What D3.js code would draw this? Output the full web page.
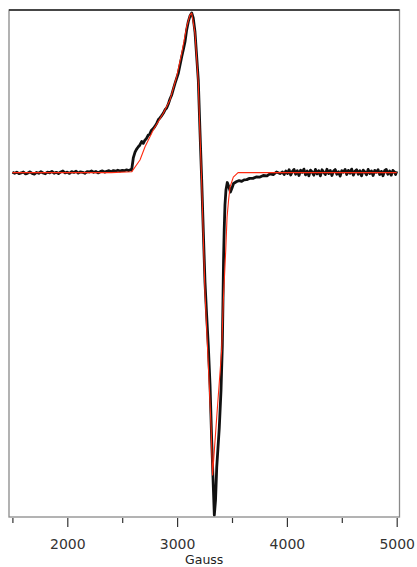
<!DOCTYPE html>
<html>
<head>
<meta charset="utf-8">
<script src="https://cdn.jsdelivr.net/npm/d3@7"></script>
<style>
  html, body { margin: 0; padding: 0; background: #fff; }
  svg { display: block; }
</style>
</head>
<body>
<div id="chart"></div>
<script>
// measured spectrum (field in Gauss, derivative intensity in arbitrary units)
var expField = [1500,1520,1540,1560,1580,1600,1620,1640,1660,1680,1700,1720,1740,1760,1780,1800,1820,1840,1860,1880,
  1900,1920,1940,1960,1980,2000,2020,2040,2060,2080,2100,2120,2140,2160,2180,2200,2220,2240,2260,2280,
  2300,2320,2340,2360,2380,2400,2420,2440,2460,2480,2500,2520,2540,2560,2575,
  2586,2601,2617,2630,2647,2660,2678,2692,2708,2720,2738,2750,2765,2783,2798,2814,2830,2844,2858,2874,2890,2905,2920,2935,2951,2965,2981,3011,3042,3056,3072,
  3087,3102,3117,3133,3147,3163,3193,3208,3224,3239,3254,3269,3284,3300,3315,3330,3339,3350,3361,3384,
  3400,3412,3418,3423,3429,3436,3445,3457,3472,3486,3500,3514,3543,3565,3588,3610,3634,3660,3691,3720,
  3755,3785,3819,3845,3876,3905,3937,3960,3975,3990,4005,4020,4035,4050,4065,4080,4095,4110,4125,4140,
  4155,4170,4185,4200,4215,4230,4245,4260,4275,4290,4305,4320,4335,4350,4365,4380,4395,4410,4425,4440,
  4455,4470,4485,4500,4515,4530,4545,4560,4575,4590,4605,4620,4635,4650,4665,4680,4695,4710,4725,4740,
  4755,4770,4785,4800,4815,4830,4845,4860,4875,4890,4905,4920,4935,4950,4965,4980,4990,5000];
var expSignal = [0.002,-0.004,0.003,-0.006,-0.002,0.004,-0.008,-0.003,0.005,-0.005,-0.009,0.001,-0.004,0.006,-0.002,-0.007,0.003,-0.001,0.008,-0.004,
  0.002,-0.006,0.004,0.010,-0.002,0.003,-0.005,0.006,0.001,0.009,-0.003,0.005,0.002,-0.004,0.006,0.004,0.010,0.002,0.007,-0.002,
  0.006,0.011,0.003,0.008,0.012,0.006,0.013,0.009,0.015,0.010,0.014,0.012,0.017,0.013,0.018,
  0.016,0.092,0.128,0.146,0.162,0.172,0.196,0.184,0.205,0.213,0.236,0.240,0.264,0.276,0.290,0.309,0.333,0.343,0.356,0.372,0.394,0.405,0.430,0.462,0.487,0.522,0.560,0.623,0.727,0.769,0.821,
  0.895,0.947,0.982,1.001,0.970,0.882,0.581,0.267,-0.046,-0.373,-0.687,-0.893,-1.082,-1.333,-1.678,-1.973,-2.148,-2.054,-1.847,-1.602,
  -1.364,-1.082,-0.799,-0.549,-0.360,-0.203,-0.109,-0.062,-0.090,-0.122,-0.097,-0.068,-0.056,-0.050,-0.055,-0.045,-0.044,-0.036,-0.036,-0.027,
  -0.028,-0.018,-0.020,-0.008,-0.012,0.004,-0.006,0.004,-0.012,0.010,-0.006,0.018,-0.015,0.008,0.020,-0.010,0.012,-0.018,0.015,0.002,
  0.022,-0.014,0.010,-0.020,0.016,0.004,-0.016,0.020,-0.008,0.012,-0.020,0.018,0.002,-0.012,0.021,-0.006,0.014,-0.018,0.010,0.019,
  -0.010,0.006,-0.022,0.012,0.003,0.020,-0.012,0.014,-0.004,0.022,-0.016,0.008,0.018,-0.010,0.012,-0.020,0.016,0.004,-0.014,0.020,
  -0.006,0.010,-0.018,0.014,0.002,0.018,-0.012,0.008,-0.020,0.012,0.020,-0.010,0.010,-0.016,0.014,0.004,-0.012,0.008];

// simulated spectrum
var simField = [1500,2400,2586,2662,2708,2783,2874,2935,2996,3042,3087,3117,3133,3163,3193,3208,3224,3254,3284,3310,
  3323,3361,3406,3421,3443,3455,3469,3482,3512,3555,5000];
var simSignal = [0,0,0.005,0.079,0.162,0.267,0.372,0.456,0.602,0.748,0.915,0.989,1.0,0.876,0.562,0.248,-0.065,-0.75,-1.2,-1.6,
  -1.897,-1.533,-1.113,-0.800,-0.486,-0.279,-0.172,-0.090,-0.028,0,0];

var majorTicks = [2000, 3000, 4000, 5000];
var minorTicks = [1500, 2500, 3500, 4500];
var xTitle = "Gauss";

var width = 417, height = 567;
var frameL = 9, frameR = 399.5, frameT = 10, frameB = 517;

var svg = d3.select("#chart").append("svg")
    .attr("width", width)
    .attr("height", height);

var x = d3.scaleLinear().domain([1500, 5000]).range([12.4, 396.7]);
var y = d3.scaleLinear().domain([-2.16, 1.02]).range([frameB, frameT]);

svg.append("defs").append("clipPath").attr("id", "plotclip")
    .append("rect")
    .attr("x", frameL).attr("y", frameT)
    .attr("width", frameR - frameL).attr("height", frameB - frameT);

var line = d3.line()
    .x(function (d) { return x(d[0]); })
    .y(function (d) { return y(d[1]); });

var expData = d3.zip(expField, expSignal);
var simData = d3.zip(simField, simSignal);

var plot = svg.append("g").attr("clip-path", "url(#plotclip)");

plot.append("path")
    .datum(expData)
    .attr("d", line)
    .attr("fill", "none")
    .attr("stroke", "#111")
    .attr("stroke-width", 2.8)
    .attr("stroke-linejoin", "round");

plot.append("path")
    .datum(simData)
    .attr("d", line)
    .attr("fill", "none")
    .attr("stroke", "#ff2a10")
    .attr("stroke-width", 1.1)
    .attr("stroke-linejoin", "round");

// frame: grey sides, dark top
svg.append("rect")
    .attr("x", frameL).attr("y", frameT)
    .attr("width", frameR - frameL).attr("height", frameB - frameT)
    .attr("fill", "none")
    .attr("stroke", "#8a8a8a")
    .attr("stroke-width", 1.3);
svg.append("line")
    .attr("x1", frameL).attr("x2", frameR)
    .attr("y1", frameT).attr("y2", frameT)
    .attr("stroke", "#222")
    .attr("stroke-width", 1.3);

// major ticks with labels
var axisMajor = d3.axisBottom(x).tickValues(majorTicks).tickSize(9).tickPadding(12).tickSizeOuter(0)
    .tickFormat(d3.format("d"));
var gMajor = svg.append("g").attr("transform", "translate(0," + (frameB + 1) + ")").call(axisMajor);
gMajor.select(".domain").remove();
gMajor.selectAll(".tick line").attr("stroke", "#333").attr("stroke-width", 1.2);
gMajor.selectAll(".tick text")
    .attr("fill", "#333")
    .style("font-family", "DejaVu Sans, sans-serif")
    .style("font-size", "14px");

// minor ticks
var axisMinor = d3.axisBottom(x).tickValues(minorTicks).tickSize(5).tickFormat("").tickSizeOuter(0);
var gMinor = svg.append("g").attr("transform", "translate(0," + (frameB + 1) + ")").call(axisMinor);
gMinor.select(".domain").remove();
gMinor.selectAll(".tick line").attr("stroke", "#333").attr("stroke-width", 1.2);

svg.append("text")
    .attr("x", (frameL + frameR) / 2)
    .attr("y", 564)
    .attr("text-anchor", "middle")
    .attr("fill", "#222")
    .style("font-family", "DejaVu Sans, sans-serif")
    .style("font-size", "12.5px")
    .text(xTitle);
</script>
</body>
</html>
